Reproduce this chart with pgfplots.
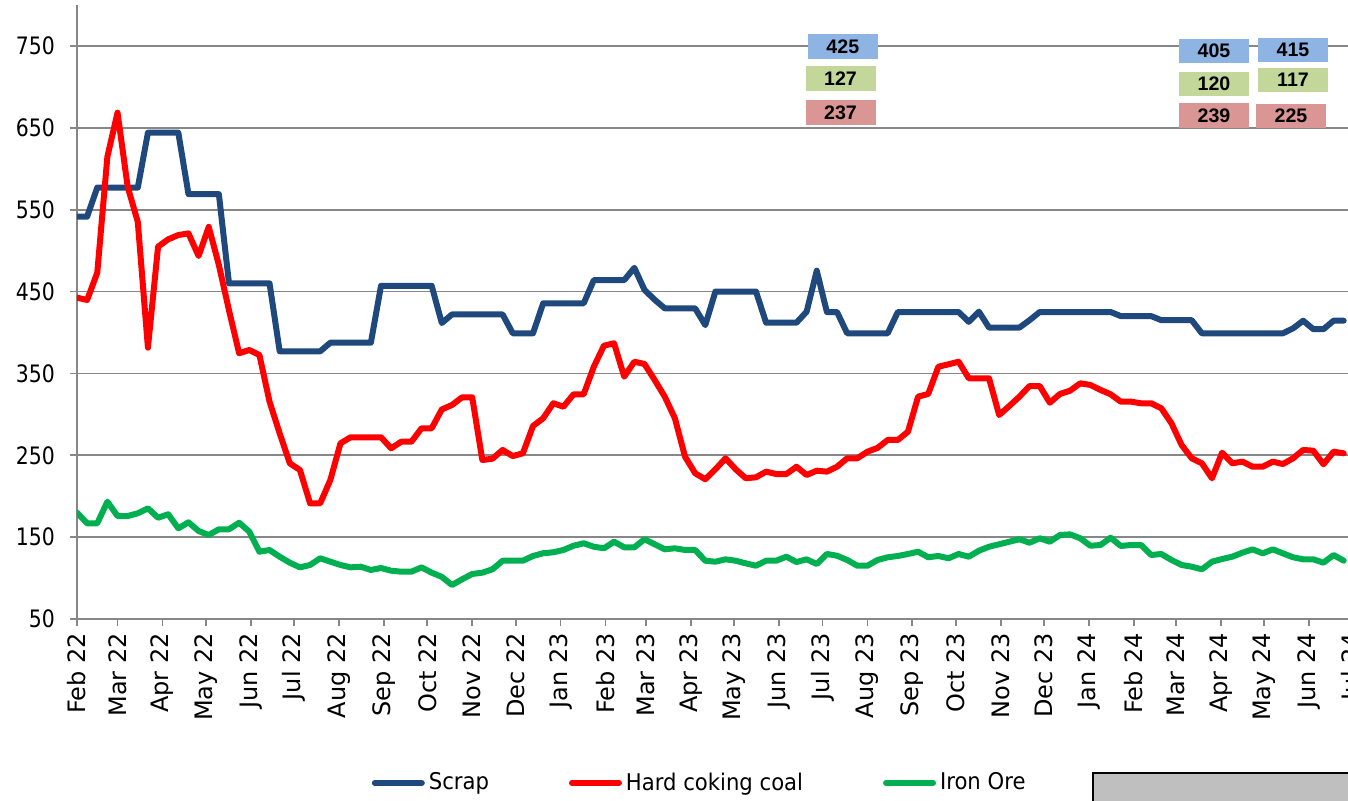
\documentclass[border=0pt]{standalone}
\usepackage{fontspec}
\setmainfont{DejaVu Sans}
\newfontfamily\ytfont[FakeStretch=0.85]{DejaVu Sans}
\newfontfamily\legfont[FakeStretch=0.92]{DejaVu Sans}
\newfontfamily\lblfont{Liberation Sans}
\usepackage{pgfplots}
\usepackage{pgfplotstable}
\pgfplotsset{compat=1.18}
\definecolor{scrapblue}{HTML}{1F497D}
\definecolor{coalred}{HTML}{FF0000}
\definecolor{oregreen}{HTML}{00B050}
\definecolor{gridgray}{HTML}{878787}
\definecolor{lblblue}{HTML}{8DB4E2}
\definecolor{lblgreen}{HTML}{C4D79B}
\definecolor{lblred}{HTML}{DA9694}
\tikzset{lbl/.style={minimum width=35pt, minimum height=12.25pt, inner sep=0pt,
    font=\lblfont\bfseries\fontsize{9.8}{9.8}\selectfont}}

\pgfplotstableread{
day scrap coal ore
0 541.5 442.5 179.9
7 541.5 439.7 166.9
14 577 473 166.9
21 577 614.8 193.3
28 577 668.5 175.8
35 577 578 175.8
42 577 535 179.1
49 644 381.4 185.2
56 644 504.8 173.7
63 644 513.8 177.9
70 644 519 160.8
77 569 521 168.1
84 569 493.4 157.5
91 569 529 152.6
98 569 482.4 159.6
105 460 427 159.6
112 460 374.6 167.6
119 460 378.6 156.7
126 460 372.5 132.2
133 460 315.5 134.3
140 377 276.8 126.1
147 377 240.2 118.8
154 377 232 113.1
161 377 191.3 116
168 377 191.3 124.2
175 387.5 219.8 120
182 387.5 264.6 116
189 387.5 272 113.1
196 387.5 272 113.9
203 387.5 272 109.9
210 457 272 112.3
217 457 258.5 109
224 457 266.6 107.8
231 457 266.6 107.8
238 457 283 113.1
245 457 283 106.6
252 411.5 306 101.5
259 422 311.4 91.5
266 422 320.8 98.5
273 422 320.8 105
280 422 244.2 106.6
287 422 245.8 110.7
294 422 256.5 121.2
301 399 249 121.2
308 399 252.4 121.2
315 399 285.8 127
322 435.6 295.2 130.3
329 435.6 313.5 131.5
336 435.6 309.3 134.3
343 435.6 324.5 139.5
350 435.6 324.5 142.5
357 464 358.2 138.3
364 464 383.9 136.4
371 464 386.8 144.4
378 464 346 137.6
385 479 364.3 137.6
392 452 361.5 147.4
399 440 342 141.3
406 429.5 321.6 135.1
413 429.5 295.2 136.4
420 429.5 248.3 134.3
427 429.5 228 134.3
434 409 220.7 121.2
441 450 232.9 120
448 450 246.3 122.9
455 450 232.9 121.2
462 450 221.9 118
469 450 223.1 115.1
476 412 230 121.2
483 412 227.1 121.2
490 412 227.1 126.1
497 412 236 119.6
504 425.4 225.9 122.9
511 475.5 231.2 117.2
518 425 230 129.4
525 425 236 127.3
532 399 246.3 122.1
539 399 246.3 115.1
546 399 254.4 115.1
553 399 259 122.1
560 399 268.7 125.4
567 425 268.7 127
574 425 278.8 129.4
581 425 321.6 132.2
588 425 324.9 125.4
595 425 358.2 127
602 425 361.1 124.2
609 425 364.3 129.4
616 413 344 126.1
623 425.4 344 133.4
630 406 344 138.3
637 406 299.2 141.3
644 406 310.2 144.4
651 406 321.6 147.4
658 415 334.6 143.2
665 425 334.6 148.6
672 425 314.2 144.4
679 425 324.9 152.6
686 425 328.9 153.4
693 425 337.9 148.6
700 425 335.9 139.5
707 425 329.8 140.4
714 425 324.5 149.3
721 420 315.5 139.2
728 420 315.5 140.4
735 420 313.5 140.4
742 420 313.5 128.2
749 415 307.4 129.4
756 415 289.1 122.1
763 415 262.6 116
770 415 246.3 113.9
777 399 240.2 110.7
784 399 221.9 120
791 399 253.2 123.3
798 399 240.2 126.1
805 399 242.2 131
812 399 236 135.1
819 399 236 130.2
826 399 242.2 135.1
833 399 239.3 130.2
840 405 246.3 125.4
847 414.4 256.5 122.9
854 404 255.6 122.9
861 404 239 118.8
868 414.4 254.4 128.2
875 414.4 252.4 121.2
}\prices

\begin{document}
\begin{tikzpicture}
\begin{axis}[
  scale only axis, width=637.7pt, height=307pt,
  xmin=0, xmax=881, ymin=50, ymax=800,
  axis x line*=bottom, axis y line*=left,
  axis line style={gridgray, line width=0.9pt},
  ytick={50,150,250,350,450,550,650,750},
  xtick={0,28,59,89,120,150,181,212,242,273,303,334,365,393,424,454,485,515,546,577,607,638,668,699,730,759,790,820,851,881},
  xticklabels={Feb 22,Mar 22,Apr 22,May 22,Jun 22,Jul 22,Aug 22,Sep 22,Oct 22,Nov 22,Dec 22,Jan 23,Feb 23,Mar 23,Apr 23,May 23,Jun 23,Jul 23,Aug 23,Sep 23,Oct 23,Nov 23,Dec 23,Jan 24,Feb 24,Mar 24,Apr 24,May 24,Jun 24,Jul 24},
  tick align=outside, major tick length=3.5pt,
  tick style={gridgray, line width=0.9pt},
  ymajorgrids, grid style={gridgray, line width=0.9pt},
  /pgf/number format/assume math mode=true,
  yticklabel style={font=\ytfont\fontsize{12}{12}\selectfont, xshift=-4pt},
  xticklabel style={font=\fontsize{12}{12}\selectfont, rotate=90, anchor=east},
  legend columns=3,
  legend style={at={(0.489,-0.267)}, anchor=center, draw=none, fill=none,
    font=\legfont\fontsize{11.5}{11.5}\selectfont,
    /tikz/every even column/.append style={column sep=38pt}},
  legend image code/.code={\draw[#1, line width=3pt, line cap=round] (0pt,0pt) -- (23.5pt,0pt);},
  every axis plot/.append style={line width=3pt, line join=round, line cap=round, mark=none},
]
\addplot[scrapblue] table[x=day, y=scrap] {\prices};
\addlegendentry{Scrap}
\addplot[coalred] table[x=day, y=coal] {\prices};
\addlegendentry{Hard coking coal}
\addplot[oregreen] table[x=day, y=ore] {\prices};
\addlegendentry{Iron Ore}
\node[lbl, fill=lblblue] at (axis cs:529,749.4) {425};
\node[lbl, fill=lblgreen] at (axis cs:527.4,710.3) {127};
\node[lbl, fill=lblred] at (axis cs:527.4,668.7) {237};
\node[lbl, fill=lblblue] at (axis cs:785.4,743.9) {405};
\node[lbl, fill=lblgreen] at (axis cs:785.4,703.6) {120};
\node[lbl, fill=lblred] at (axis cs:785.4,665.1) {239};
\node[lbl, fill=lblblue] at (axis cs:840,745.1) {415};
\node[lbl, fill=lblgreen] at (axis cs:840,708.2) {117};
\node[lbl, fill=lblred] at (axis cs:838.6,664.5) {225};
\coordinate (LL) at (rel axis cs:0,0);
\end{axis}
\draw[fill=gray!50, line width=0.75pt] (LL) ++(508pt,-77pt) rectangle ++(200pt,-40pt);
\pgfresetboundingbox
\path[use as bounding box] (LL) ++(-38.5pt,-90.5pt) rectangle ++(674pt,400pt);
\end{tikzpicture}
\end{document}
